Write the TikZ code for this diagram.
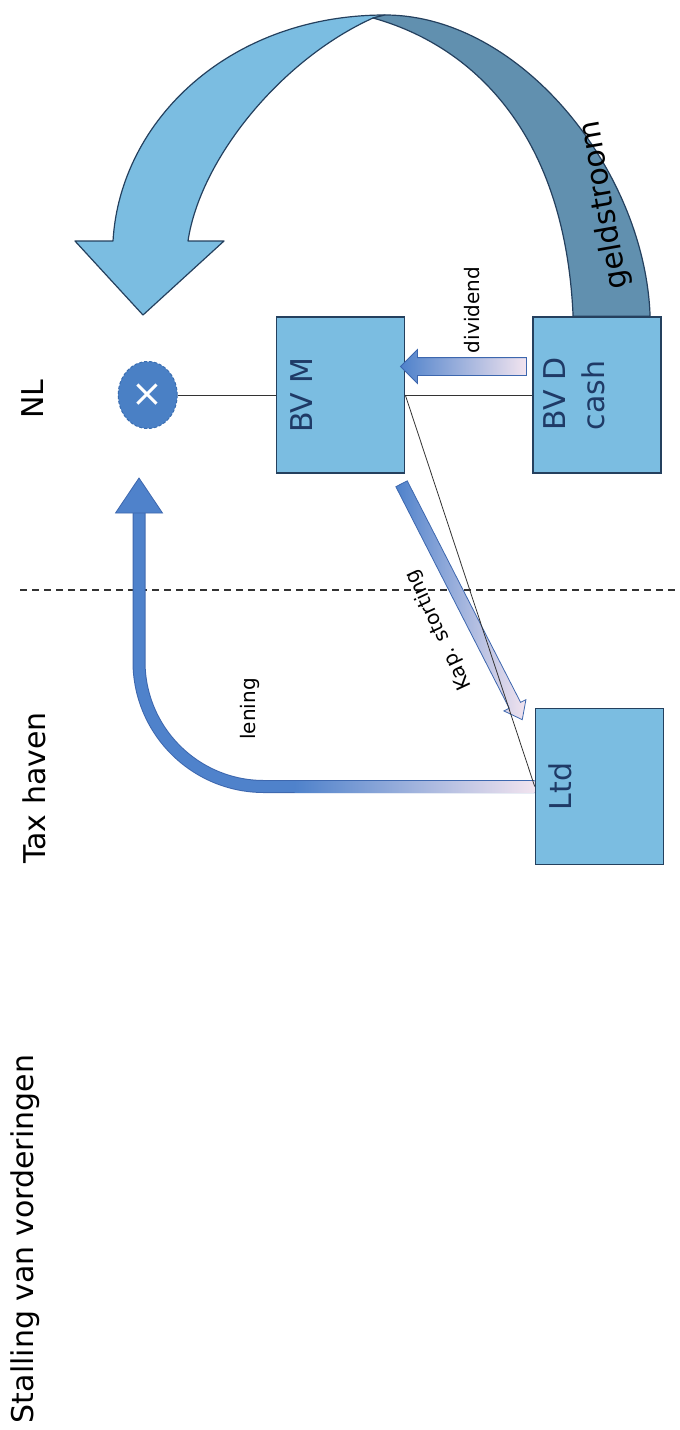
\documentclass[tikz,border=0pt]{standalone}
\usepackage{fontspec}
\setmainfont{DejaVu Sans}
\usetikzlibrary{shapes.geometric,shapes.arrows,arrows.meta,positioning,calc}
\definecolor{cBox}{HTML}{7BBDE1}
\definecolor{cEdge}{HTML}{24405E}
\definecolor{cInk}{HTML}{1F3A66}
\definecolor{cBand}{HTML}{6190AF}
\definecolor{cFlow}{HTML}{4F82CB}
\definecolor{cFlowEdge}{HTML}{3D67AE}
\definecolor{cPale}{HTML}{F2E4EF}
\definecolor{cOwner}{HTML}{4A80C5}
\definecolor{cOwnerEdge}{HTML}{3A6DB0}
\newcommand{\lblbig}{\fontsize{30}{39}\selectfont}
\newcommand{\lblsmall}{\fontsize{20}{24}\selectfont}
\tikzset{
  box/.style     = {rectangle, draw=cEdge, fill=cBox, line width=1.6pt,
                    minimum width=128pt, minimum height=156pt, inner sep=0pt},
  boxtxt/.style  = {rotate=90, anchor=base, text=cInk, font=\lblbig, inner sep=0pt},
  zone/.style    = {rotate=90, anchor=base, font=\lblbig, inner sep=0pt},
  flowlab/.style = {font=\lblsmall, inner sep=0pt},
  owner/.style   = {ellipse, fill=cOwner, draw=cOwnerEdge, line width=1pt,
                    dash pattern=on 3pt off 2pt, minimum width=59pt, minimum height=67pt,
                    inner sep=0pt, text=white, font=\fontsize{38}{38}\selectfont},
  link/.style    = {draw=black!80, line width=0.8pt},
  divider/.style = {draw=black!80, line width=1.4pt, dash pattern=on 7pt off 5pt},
  flowarr/.style = {single arrow, draw=cFlowEdge, line width=0.8pt, inner xsep=0pt},
  ribbon/.style  = {draw=cEdge, line width=1.2pt, line join=round},
}

\begin{document}
\begin{tikzpicture}[x=1pt, y=-1pt]
  \useasboundingbox (0,0) rectangle (680,1430);

  % companies
  \node[box] (bvm) at (340.5,395) {};
  \node[box, right=127pt of bvm] (bvd) {};
  \node[box] (ltd) at (599.5,786.5) {};
  \node[owner, left=98pt of bvm] (owner) {×};

  \node[boxtxt] (bvmtxt) at ($(bvm.west)+(36.5,0)$) {BV M};
  \node[boxtxt, anchor=center, align=left] (bvdtxt) at ($(bvd.west)+(42,-1)$) {BV D\\cash};
  \node[boxtxt] (ltdtxt) at ($(ltd.west)+(37,0)$) {Ltd};

  % jurisdictions
  \node[zone] (nl) at (43,399) {NL};
  \node[zone] (tax) at (45,788) {Tax haven};
  \node[zone] (stall) at (34,1239) {Stalling van vorderingen};
  \draw[divider] (20,590) -- (680,590);

  % geldstroom ribbon, front and back
  \filldraw[ribbon, fill=cBox] (113,241) .. controls (120,120) and (230,15) .. (385,15)
    -- (373,18) .. controls (280,60) and (200,160) .. (188,241)
    -- (224,241) -- (143,315) -- (75,241) -- cycle;
  \filldraw[ribbon, fill=cBand] (373,18) -- (385,15) .. controls (520,15) and (645,170) .. ($(bvd.north)+(53,0)$)
    -- ($(bvd.north)+(-24,0)$) .. controls (565,130) and (470,45) .. (373,18) -- cycle;
  \node[flowlab, font=\lblbig, rotate=100] (geldlab) at (605,205) {geldstroom};

  % lening
  \coordinate (lenbase) at (139,513);
  \coordinate (lentip) at (139,478);
  \draw[cFlowEdge, line width=13pt, rounded corners=125pt] (ltd.west) -| (lenbase);
  \draw[cFlow, line width=11pt, rounded corners=125pt] (ltd.west) -| (lenbase);
  \shade[left color=cFlow, right color=cPale] ($(ltd.west)+(-240,-5.5)$) rectangle ($(ltd.west)+(0,5.5)$);
  \filldraw[fill=cFlow, draw=cFlowEdge, line width=0.8pt]
    ($(lenbase)+(-23.5,0)$) -- ($(lenbase)+(23.5,0)$) -- (lentip) -- cycle;
  \node[flowlab, rotate=90, anchor=base] (lenlab) at (255,709) {lening};

  % dividend and kapitaalstorting
  \node[flowarr, rotate=180, minimum height=126pt, minimum width=33pt, inner ysep=8.5pt,
        single arrow head extend=8pt, left color=cFlow, right color=cPale] (divarr) at (468,366.5) {};
  \node[flowlab, rotate=90, anchor=base] (divlab) at (479,310) {dividend};
  \node[flowarr, rotate=-62.9, minimum height=265pt, minimum width=24pt, inner ysep=6pt,
        single arrow head extend=6pt, single arrow tip angle=75,
        left color=cFlow, right color=cPale] (kaparr) at (460,598) {};
  \node[flowlab, rotate=115] (kaplab) at (439,630) {Kap. storting};

  % ownership lines
  \draw[link] (owner) -- (bvm);
  \draw[link] (bvm.east) -- (bvd.west);
  \draw[link] (bvm.east) -- (ltd.west);
\end{tikzpicture}
\end{document}
